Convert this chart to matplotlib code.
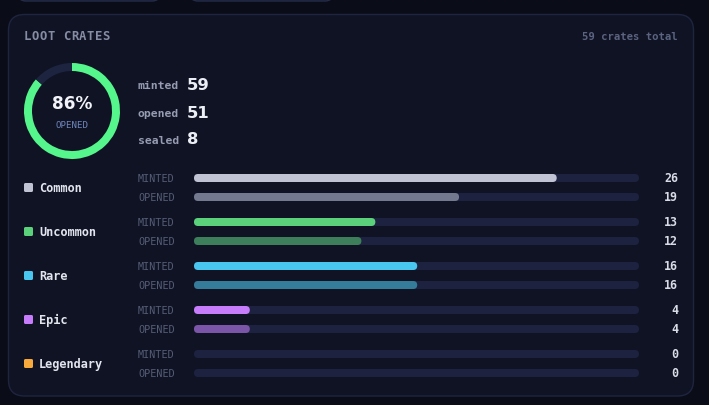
import matplotlib
matplotlib.use("Agg")
import matplotlib.pyplot as plt
from matplotlib.patches import FancyBboxPatch

# ---- data ----
title = "LOOT CRATES"
total_label = "59 crates total"
minted_total = 59
opened_total = 51
sealed_total = 8
pct_opened = "86%"
categories = ["Common", "Uncommon", "Rare", "Epic", "Legendary"]
minted = [26, 13, 16, 4, 0]
opened = [19, 12, 16, 4, 0]
cat_colors = ["#bfc3d3", "#5bd17b", "#49c6ef", "#c77dfb", "#f7a93b"]
opened_colors = ["#737a8f", "#3e7f5b", "#347c9a", "#7a55a8", "#8a6a3a"]
XMAX = 31.9

W, H = 709, 406
fig = plt.figure(figsize=(W / 100, H / 100), dpi=100)
fig.patch.set_facecolor("#0a0d18")

ax = fig.add_axes([0, 0, 1, 1])
ax.set_xlim(0, W)
ax.set_ylim(H, 0)
ax.axis("off")

# top partial boxes
for x0, x1 in [(18, 160), (190, 333)]:
    ax.add_patch(FancyBboxPatch((x0, -30), x1 - x0, 32, boxstyle="round,pad=0,rounding_size=8",
                                fc="#11152a", ec="#252c4a", lw=1))
# card
ax.add_patch(FancyBboxPatch((8.5, 15.5), 685, 381.5, boxstyle="round,pad=0,rounding_size=16",
                            fc="#0f1324", ec="#1f2541", lw=1))

mono = "DejaVu Sans Mono"
# title with slight letter spacing
tx = 24
for ch in title:
    ax.text(tx, 37, ch, fontsize=8.8, family=mono, fontweight="bold", color="#868ca4", va="center")
    tx += 7.85
ax.text(678, 37, total_label, fontsize=7.6, family=mono, fontweight="bold", color="#5b6380",
        va="center", ha="right")

# stats
for y, lab, val in [(86, "minted", minted_total), (114, "opened", opened_total), (141, "sealed", sealed_total)]:
    ax.text(138, y, lab, fontsize=8.2, family=mono, fontweight="bold", color="#979cb2", va="center")
    ax.text(187, y - 1, str(val), fontsize=11.8, family="DejaVu Sans", fontweight="bold",
            color="#eceef5", va="center")

# donut
cx, cy, R = 72, 112, 48
axd = fig.add_axes([(cx - R) / W, 1 - (cy + R) / H, 2 * R / W, 2 * R / H])
axd.pie([opened_total, sealed_total], colors=["#55f68b", "#1d2440"], startangle=90,
        counterclock=False, radius=1, wedgeprops=dict(width=8 / 48, edgecolor="none"))
axd.set_aspect("equal")
axd.set_xlim(-1, 1)
axd.set_ylim(-1, 1)
axd.axis("off")
ax.text(cx, 104, pct_opened, fontsize=12.2, family="DejaVu Sans", fontweight="bold",
        color="#f2f3f8", va="center", ha="center")
ax.text(cx, 126, "OPENED", fontsize=6.6, family=mono, color="#6f86bd", va="center", ha="center")

# rows
axb = fig.add_axes([194 / W, 0, 445 / W, 1])
axb.set_xlim(0, XMAX)
axb.set_ylim(H, 0)
axb.axis("off")
axb.patch.set_alpha(0)
pxu = 445 / XMAX
r = 4 / pxu
bh = 8


def rbar(yc, v, color):
    if v <= 0:
        return
    axb.add_patch(FancyBboxPatch((0, yc - bh / 2), v, bh,
                                 boxstyle=f"round,pad=0,rounding_size={r}",
                                 mutation_aspect=pxu, fc=color, ec="none"))


for i, cat in enumerate(categories):
    ym = 179 + 44 * i
    yo = ym + 19
    yc = (ym + yo) / 2
    ax.add_patch(FancyBboxPatch((24, yc - 4.5), 9, 9, boxstyle="round,pad=0,rounding_size=1.5",
                                fc=cat_colors[i], ec="none"))
    ax.text(39, yc, cat, fontsize=8.6, family=mono, fontweight="bold", color="#e3e5ee", va="center")
    for y, lab, v, col in [(ym, "MINTED", minted[i], cat_colors[i]), (yo, "OPENED", opened[i], opened_colors[i])]:
        ax.text(138, y, lab, fontsize=7.3, family=mono, color="#565d76", va="center")
        rbar(y, XMAX, "#1c2240")
        rbar(y, v, col)
        ax.text(678, y, str(v), fontsize=8.4, family=mono, fontweight="bold", color="#d9dce7",
                va="center", ha="right")

fig.savefig("out.png", dpi=100, facecolor=fig.get_facecolor())
